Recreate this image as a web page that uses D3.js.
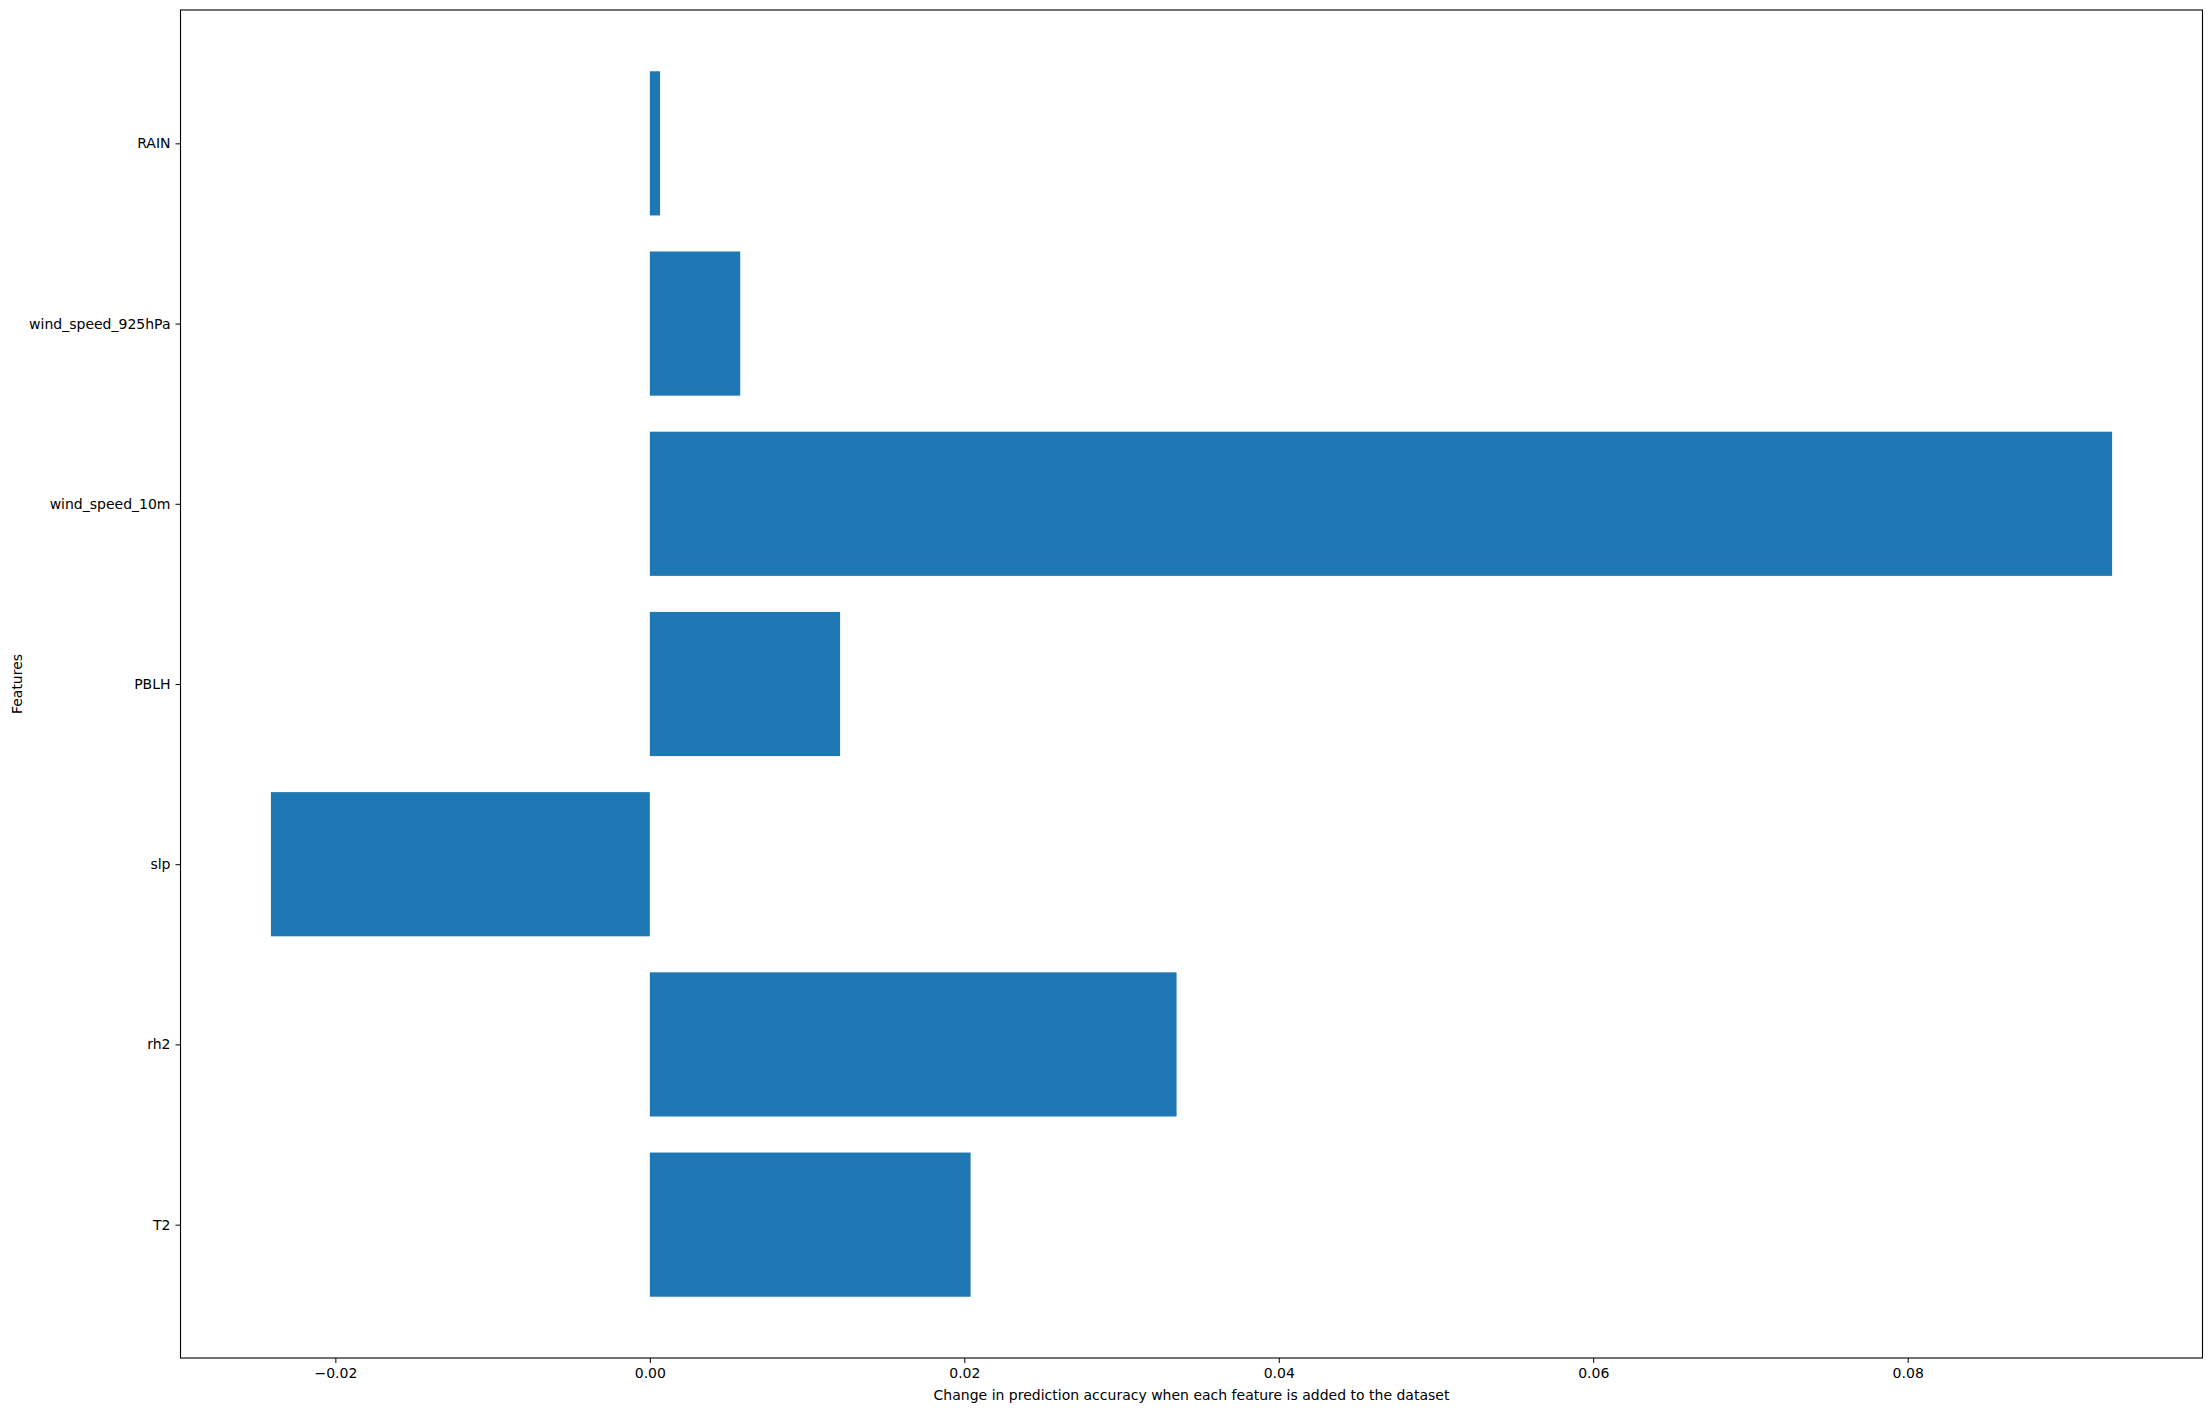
<!DOCTYPE html><html><head><script src="https://cdn.jsdelivr.net/npm/d3@7"></script>
<style>body{margin:0;background:#fff}text{font-family:"DejaVu Sans",sans-serif}</style></head><body><svg id="c" width="2211" height="1411"></svg>
<script>
const features=["T2","rh2","slp","PBLH","wind_speed_10m","wind_speed_925hPa","RAIN"];
const values=[0.0204,0.0335,-0.0241,0.0121,0.0930,0.00575,0.00065];
const xTicks=[-0.02,0,0.02,0.04,0.06,0.08];
const svg=d3.select("#c");
const L=180.5,R=2202.5,T=10,B=1358;
const x=d3.scaleLinear().domain([-0.02985,0.09875]).range([L,R]);
const y=d3.scaleLinear().domain([-0.74,6.74]).range([B,T]);
svg.selectAll("rect.b").data(features).enter().append("rect")
 .attr("x",(d,i)=>x(Math.min(0,values[i]))).attr("width",(d,i)=>Math.abs(x(values[i])-x(0)))
 .attr("y",(d,i)=>y(i+0.4)).attr("height",(d,i)=>y(i-0.4)-y(i+0.4)).attr("fill","#1f77b4");
const fmt=d=>d.toFixed(2).replace("-","\u2212");
const xa=svg.append("g").attr("transform",`translate(0,${B})`).call(d3.axisBottom(x).tickValues(xTicks).tickFormat(fmt).tickSize(5).tickPadding(5));
const ya=svg.append("g").attr("transform",`translate(${L},0)`).call(d3.axisLeft(y).tickValues(d3.range(7)).tickFormat(i=>features[i]).tickSize(5).tickPadding(5));
[xa,ya].forEach(a=>{a.select(".domain").remove();a.selectAll("text").attr("font-size",14).attr("font-family","DejaVu Sans").attr("fill","#000");a.selectAll("line").attr("stroke","#000");});
svg.append("rect").attr("x",L).attr("y",T).attr("width",R-L).attr("height",B-T).attr("fill","none").attr("stroke","#000").attr("stroke-width",1.1);
svg.append("text").attr("x",(L+R)/2).attr("y",1400).attr("text-anchor","middle").attr("font-size",14).text("Change in prediction accuracy when each feature is added to the dataset");
svg.append("text").attr("transform",`translate(22,${(T+B)/2}) rotate(-90)`).attr("text-anchor","middle").attr("font-size",14).text("Features");
</script></body></html>
